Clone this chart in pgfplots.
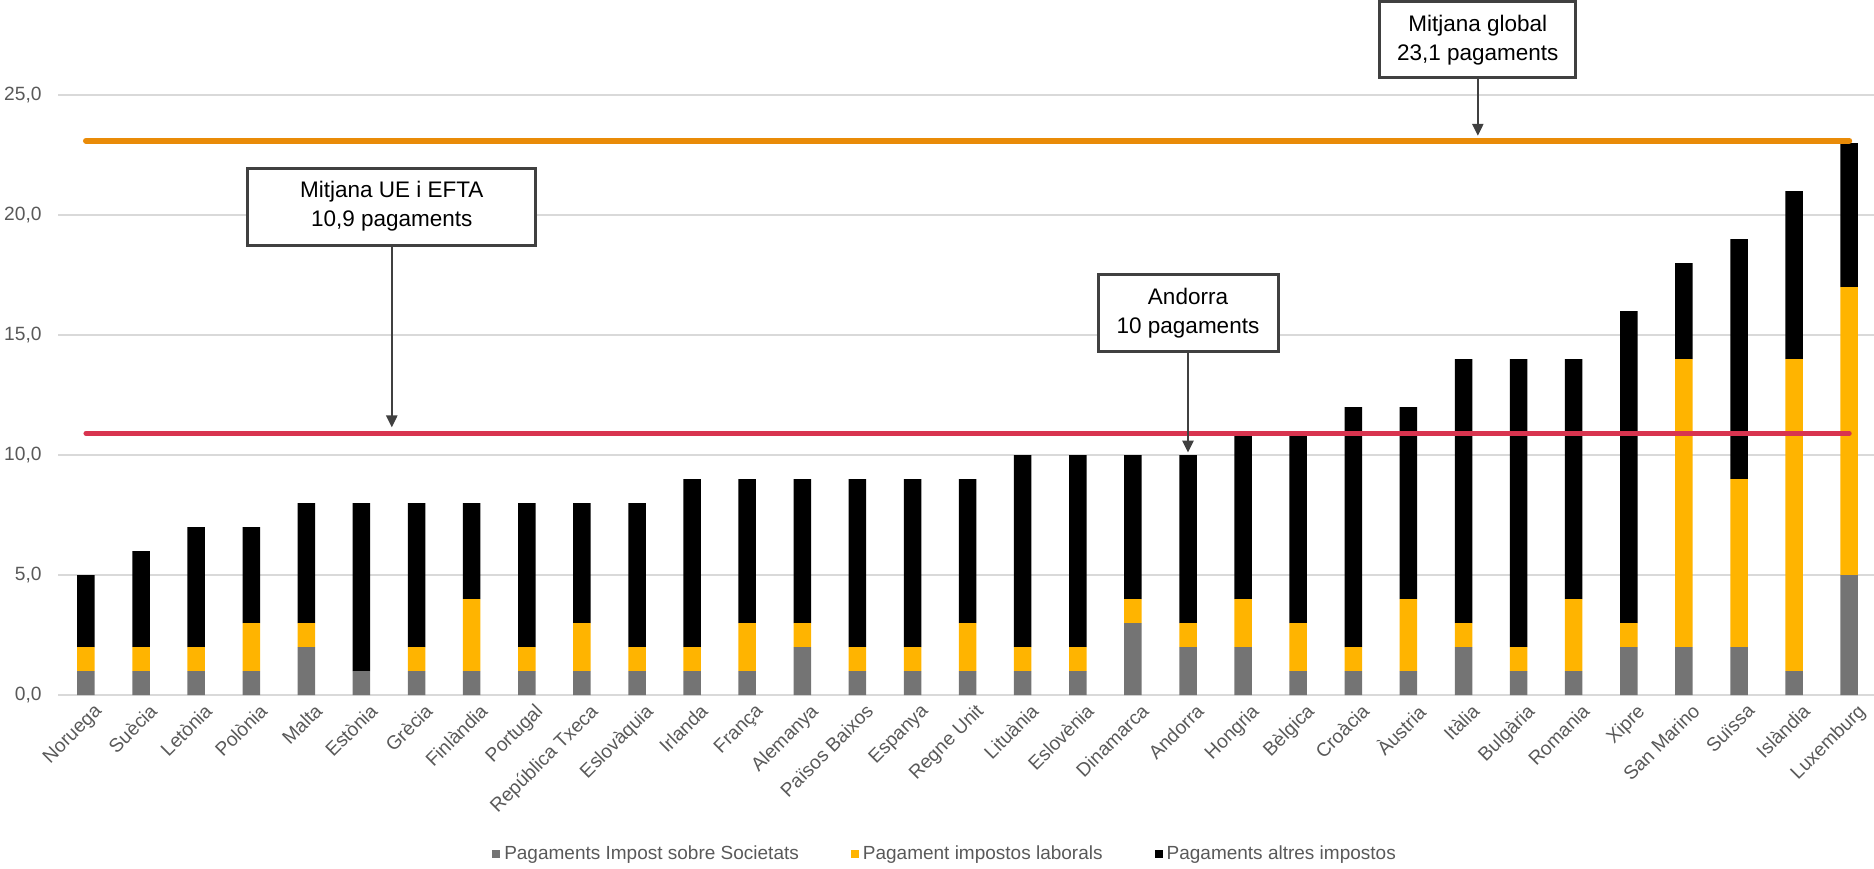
\documentclass[border=0pt]{standalone}
\usepackage{fontspec}
\setmainfont{Liberation Sans}
\usepackage{pgfplots}
\usepackage{pgfplotstable}
\pgfplotsset{compat=1.18}
\usetikzlibrary{arrows.meta}
\definecolor{barGray}{HTML}{747474}
\definecolor{barOrange}{HTML}{FFB400}
\definecolor{barBlack}{HTML}{000000}
\definecolor{lineOrange}{HTML}{E98B08}
\definecolor{lineRed}{HTML}{D8344F}
\definecolor{boxc}{HTML}{404040}
\definecolor{gridc}{HTML}{D9D9D9}
\definecolor{tickc}{HTML}{595959}
\pgfplotstableread{
x soc lab alt
0 1 1 3
1 1 1 4
2 1 1 5
3 1 2 4
4 2 1 5
5 1 0 7
6 1 1 6
7 1 3 4
8 1 1 6
9 1 2 5
10 1 1 6
11 1 1 7
12 1 2 6
13 2 1 6
14 1 1 7
15 1 1 7
16 1 2 6
17 1 1 8
18 1 1 8
19 3 1 6
20 2 1 7
21 2 2 7
22 1 2 8
23 1 1 10
24 1 3 8
25 2 1 11
26 1 1 12
27 1 3 10
28 2 1 13
29 2 12 4
30 2 7 10
31 1 13 7
32 5 12 6
}\data
\pgfplotstableread{
x y
0 23.1
32 23.1
}\globalavg
\pgfplotstableread{
x y
0 10.9
32 10.9
}\euavg
\begin{document}
\begin{tikzpicture}
\begin{axis}[
  at={(0pt,0pt)}, anchor=south west,
  scale only axis, width=908pt, height=347.5pt,
  xmin=-0.508, xmax=32.45, ymin=0, ymax=28.96,
  ybar stacked, bar width=8.75pt,
  axis line style={draw=none}, tick style={draw=none},
  major tick length=0pt,
  ytick={0,5,10,15,20,25},
  yticklabels={{0,0},{5,0},{10,0},{15,0},{20,0},{25,0}},
  ymajorgrids, grid style={draw=gridc, line width=0.75pt},
  xtick={0,...,32},
  xticklabels={Noruega,Suècia,Letònia,Polònia,Malta,Estònia,Grècia,Finlàndia,Portugal,República Txeca,Eslovàquia,Irlanda,França,Alemanya,Països Baixos,Espanya,Regne Unit,Lituània,Eslovènia,Dinamarca,Andorra,Hongria,Bèlgica,Croàcia,Àustria,Itàlia,Bulgària,Romania,Xipre,San Marino,Suïssa,Islàndia,Luxemburg},
  xticklabel style={rotate=45, anchor=north east, inner sep=0pt, xshift=0pt, yshift=-5pt, text=tickc, font=\fontsize{9.6}{11}\selectfont},
  yticklabel style={anchor=east, inner sep=0pt, xshift=-8pt, text=tickc, font=\fontsize{9.6}{11}\selectfont},
  legend columns=3,
  legend style={at={(0.489,-0.229)}, anchor=center, draw=none, fill=none, inner sep=0pt,
    font=\fontsize{9.5}{11}\selectfont, text=tickc,
    /tikz/every even column/.append style={column sep=24pt},
    /tikz/every odd column/.append style={column sep=0pt}},
  legend image code/.code={\fill[#1] (0pt,-2pt) rectangle (4pt,2pt);},
]
\addplot[fill=barGray, draw=none] table[x=x, y=soc] {\data};
\addlegendentry{Pagaments Impost sobre Societats}
\addplot[fill=barOrange, draw=none] table[x=x, y=lab] {\data};
\addlegendentry{Pagament impostos laborals}
\addplot[fill=barBlack, draw=none] table[x=x, y=alt] {\data};
\addlegendentry{Pagaments altres impostos}
\end{axis}
\begin{axis}[
  at={(0pt,0pt)}, anchor=south west,
  scale only axis, width=908pt, height=347.5pt,
  xmin=-0.508, xmax=32.45, ymin=0, ymax=28.96,
  hide axis, clip=false,
]
\addplot[lineOrange, line width=3pt, line cap=round] table[x=x, y=y] {\globalavg};
\addplot[lineRed, line width=2.5pt, line cap=round] table[x=x, y=y] {\euavg};
\node[draw=boxc, line width=1.5pt, fill=white, align=center, font=\fontsize{11.25}{14.5}\selectfont, minimum width=144pt, minimum height=38.5pt, inner sep=0pt] (b1) at (axis cs:5.55,20.35) {Mitjana UE i EFTA\\10,9 pagaments};
\draw[boxc, line width=1.2pt, -{Triangle[length=6pt,width=5.5pt]}] (b1.south) -- (axis cs:5.55,11.15);
\node[draw=boxc, line width=1.5pt, fill=white, align=center, font=\fontsize{11.25}{14.5}\selectfont, minimum width=90pt, minimum height=38.5pt, inner sep=0pt] (b2) at (axis cs:20,15.9) {Andorra\\10 pagaments};
\draw[boxc, line width=1.2pt, -{Triangle[length=6pt,width=5.5pt]}] (b2.south) -- (axis cs:20,10.1);
\node[draw=boxc, line width=1.5pt, fill=white, align=center, font=\fontsize{11.25}{14.5}\selectfont, minimum width=98pt, minimum height=38pt, inner sep=0pt] (b3) at (axis cs:25.26,27.3) {Mitjana global\\23,1 pagaments};
\draw[boxc, line width=1.2pt, -{Triangle[length=6pt,width=5.5pt]}] (b3.south) -- (axis cs:25.26,23.3);
\end{axis}
\pgfresetboundingbox
\path[use as bounding box] (-29pt,-86.5pt) rectangle (908pt,347.5pt);
\end{tikzpicture}
\end{document}
